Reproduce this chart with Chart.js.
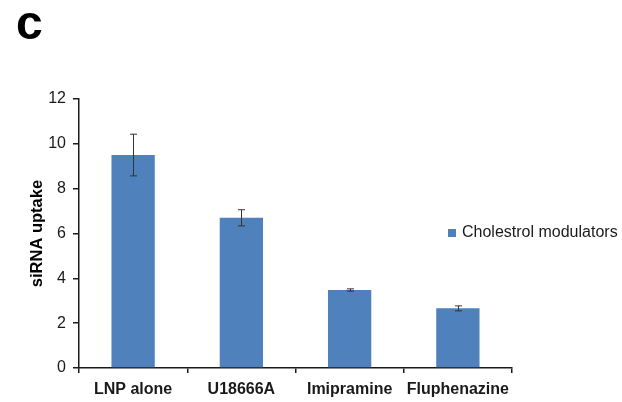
<!DOCTYPE html>
<html>
<head>
<meta charset="utf-8">
<script src="https://cdn.jsdelivr.net/npm/chart.js@4/dist/chart.umd.min.js"></script>
<style>
html,body{margin:0;padding:0;background:#fff;}
canvas{display:block;}
</style>
</head>
<body>
<canvas id="c" width="622" height="402"></canvas>
<script>
const panelLabel = 'c';
const seriesName = 'Cholestrol modulators';
const categories = ['LNP alone', 'U18666A', 'Imipramine', 'Fluphenazine'];
const uptake = [9.5, 6.7, 3.48, 2.66];
const uptakeErr = [0.93, 0.36, 0.05, 0.11];
const yMin = 0, yMax = 12, yStep = 2;
const yTitle = 'siRNA uptake';

const FONT = '"Liberation Sans", Arial, sans-serif';
const BAR = '#4F81BD';
const INK = '#1a1a1a';

const errorBars = {
  id: 'errorBars',
  afterDatasetsDraw(chart) {
    const ctx = chart.ctx;
    const meta = chart.getDatasetMeta(0);
    const ys = chart.scales.y;
    ctx.save();
    ctx.lineWidth = 1;
    ctx.strokeStyle = '#333';
    meta.data.forEach((bar, i) => {
      const x = Math.round(bar.x) + 0.5;
      const hi = ys.getPixelForValue(uptake[i] + uptakeErr[i]);
      const lo = ys.getPixelForValue(uptake[i] - uptakeErr[i]);
      ctx.beginPath();
      ctx.moveTo(x, hi); ctx.lineTo(x, lo);
      ctx.moveTo(x - 3.5, hi); ctx.lineTo(x + 3.5, hi);
      ctx.moveTo(x - 3.5, lo); ctx.lineTo(x + 3.5, lo);
      ctx.stroke();
    });
    ctx.restore();
  }
};

const extras = {
  id: 'extras',
  afterDraw(chart) {
    const ctx = chart.ctx;
    ctx.save();
    ctx.fillStyle = '#000';
    ctx.font = 'bold 48px ' + FONT;
    ctx.textBaseline = 'alphabetic';
    ctx.textAlign = 'left';
    ctx.fillText(panelLabel, 16, 39);
    // legend
    ctx.fillStyle = BAR;
    ctx.fillRect(448, 229, 8, 8);
    ctx.fillStyle = INK;
    ctx.font = '16px ' + FONT;
    ctx.textBaseline = 'middle';
    ctx.fillText(seriesName, 462, 233);
    ctx.restore();
  }
};

new Chart(document.getElementById('c'), {
  type: 'bar',
  data: {
    labels: categories,
    datasets: [{
      label: seriesName,
      data: uptake,
      backgroundColor: BAR,
      borderWidth: 0,
      categoryPercentage: 1.0,
      barPercentage: 0.4
    }]
  },
  options: {
    responsive: false,
    animation: false,
    layout: { padding: { left: 28, right: 110, top: 99, bottom: 0 } },
    plugins: {
      legend: { display: false },
      tooltip: { enabled: false }
    },
    scales: {
      x: {
        offset: true,
        grid: { offset: true, drawOnChartArea: false, drawTicks: true, tickLength: 5, color: INK, lineWidth: 1.5 },
        border: { display: true, color: INK, width: 1.5 },
        ticks: { color: INK, font: { family: FONT, size: 16, weight: 'bold' }, padding: 7, maxRotation: 0 },
        afterFit(s) { s.height = 34; }
      },
      y: {
        min: yMin, max: yMax,
        grid: { drawOnChartArea: false, drawTicks: true, tickLength: 6, color: INK, lineWidth: 1.5 },
        border: { display: true, color: INK, width: 1.5 },
        ticks: { stepSize: yStep, color: INK, font: { family: FONT, size: 16 }, padding: 7 },
        title: { display: true, text: yTitle, color: '#000', font: { family: FONT, size: 16.5, weight: 'bold' }, padding: 0 },
        afterFit(s) { s.width = 51; }
      }
    }
  },
  plugins: [errorBars, extras]
});
</script>
</body>
</html>
